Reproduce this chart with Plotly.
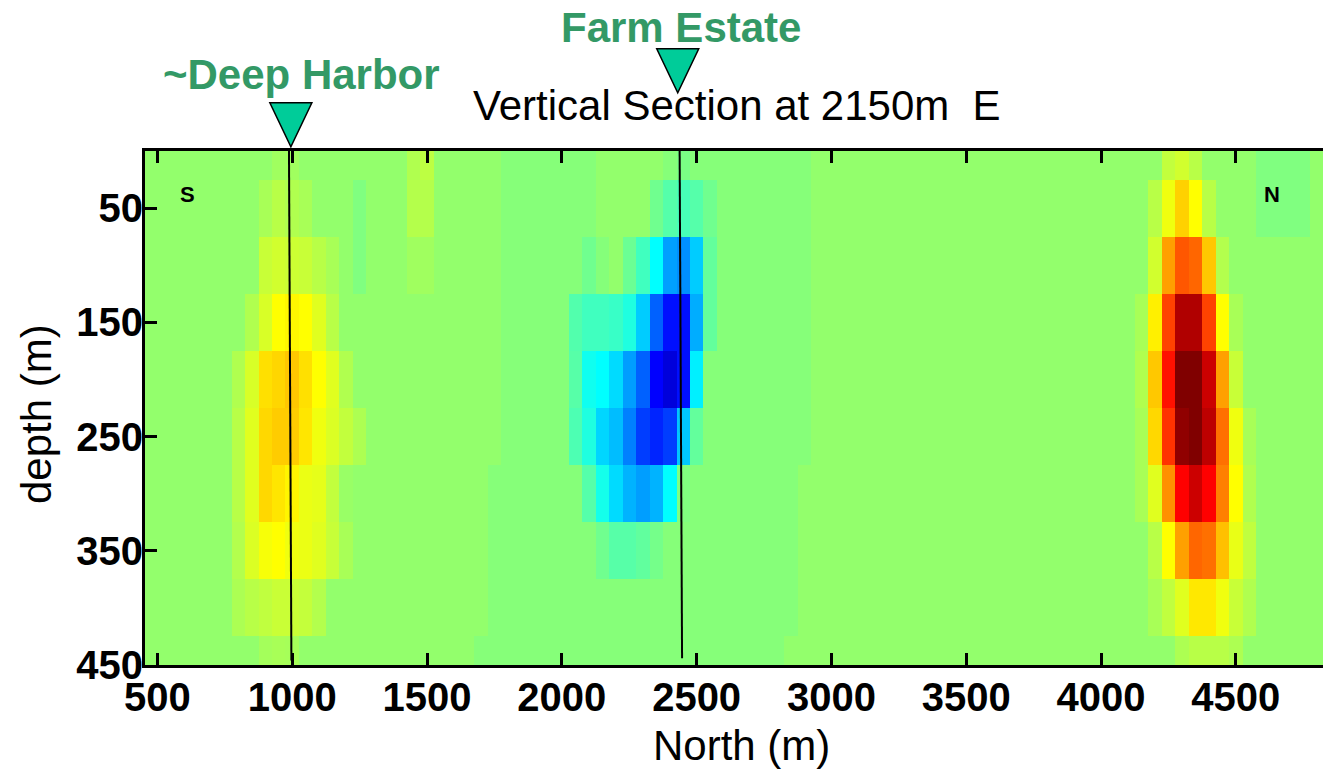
import plotly.graph_objects as go

# ---------------- data ----------------
north = list(range(450, 4851, 50))          # cell centres along the section (m)
depth = [0, 50, 100, 150, 200, 250, 300, 350, 400, 450]   # cell centres (m)

bg_level = 3.8      # regional background value
low_level = 1.3     # slightly lower background bands
# (first row, last row, first north, last north) of the lower background bands
low_bands = [
    (0, 5, 1800, 2100),
    (0, 5, 2400, 2900),
    (6, 8, 1750, 2850),
    (9, 9, 1700, 2800),
]

# anomaly blocks: values per row (None = background)
deep_harbor_start = 800
deep_harbor = [
    [None, None, None, 6.4, 6.4, None, None, None, None, None],
    [None, None, 8, 11, 9.6, 8, None, None, None, 0],
    [None, None, 14.2, 16, 15, 14.2, 11, 8, None, 0],
    [None, 9.6, 17.4, 25, 26.5, 25, 19, 11, None, None],
    [9.6, 17.4, 31, 33, 36, 31, 25, 19, 9.6, None],
    [11, 19, 32.6, 35, 35, 30, 22, 18, 13, 9],
    [11, 19, 32.6, 30, 27, 21, 20, 13, 5, None],
    [10, 18, 23.5, 25, 22, 21, 19, 14, 8, None],
    [8.8, 11, 12.6, 14.5, 14.5, 13.4, 10, None, None, None],
    [None, None, 7.2, 8, 7.5, None, None, None, None, None],
]

shallow_start = 1450
shallow = [
    [9.6, 12],
    [10.3, 10.3],
    [6.4, 6.4],
]

farm_estate_start = 2050
farm_estate = [
    [None, None, None, None, None, None, None, None, -1, None, None],
    [None, None, None, None, None, None, -3, -8.3, -11, -8.3, -3],
    [None, -3, 1, None, -4, -12.5, -25, -43.6, -47, -35, -5.5],
    [-9, -12.5, -12.5, -14, -19, -35, -56, -72, -72, -41, -5.5],
    [-8, -22, -25, -32, -44, -56, -75, -82, -72, -28, None],
    [-10, -19, -33, -38, -50, -63, -68, -63, -36, -5.5, None],
    [None, -8.3, -21, -32, -40, -44, -40, -25, 0, None, None],
    [None, None, -3, -8, -8, -6, -2, None, None, None, None],
]

north_body_start = 4100
north_body = [
    [None, None, None, 13, 16, 11, None, None, None, None],
    [None, None, 11, 22, 34, 25, 11, None, None, None],
    [None, None, 16, 43.6, 58, 55, 36, 10, None, None],
    [None, 8, 28, 62, 90.5, 90.5, 62, 25, 8, None],
    [None, 9.6, 35.8, 71.7, 100, 100, 85, 43.6, 14.2, None],
    [None, 8, 32.6, 65, 96.8, 100, 88, 53, 22, 8],
    [None, 8, 19, 46.8, 75, 85, 75, 50, 25, 9.6],
    [None, None, 11, 25, 43.6, 55, 53, 37.3, 20.6, 12.6],
    [None, None, 8, 12.6, 19, 29.5, 29.5, 22, 14.2, 9.6],
    [None, None, None, None, 9, 11, 11, 11, 9, None],
]

north_corner_start = 4600
north_corner = [
    [0, 0, 0, 0],
    [0, 0, 0, 0],
]

xtick_vals = [500, 1000, 1500, 2000, 2500, 3000, 3500, 4000, 4500]
ytick_vals = [50, 150, 250, 350, 450]

sites = ["~Deep Harbor", "Farm Estate"]
site_north_top = [988, 2437]
site_north_bottom = [997, 2446]
site_line_end = [446, 444]
site_marker_north = [995, 2430]

# ---------------- build grid ----------------
z = [[bg_level for _ in north] for _ in depth]
for r0, r1, a, b in low_bands:
    for r in range(r0, r1 + 1):
        for j, n in enumerate(north):
            if a <= n <= b:
                z[r][j] = low_level

patches = [
    (deep_harbor_start, deep_harbor),
    (shallow_start, shallow),
    (farm_estate_start, farm_estate),
    (north_body_start, north_body),
    (north_corner_start, north_corner),
]
for start, block in patches:
    for i, row in enumerate(block):
        for k, v in enumerate(row):
            if v is not None:
                z[i][north.index(start + 50 * k)] = v

jet = [[0.0, "#000080"], [0.125, "#0000FF"], [0.375, "#00FFFF"],
       [0.625, "#FFFF00"], [0.875, "#FF0000"], [1.0, "#800000"]]

FONT = "Liberation Sans, Arial, sans-serif"
GREEN = "#339966"

fig = go.Figure()
fig.add_trace(go.Heatmap(
    x=north, y=depth, z=z, colorscale=jet, zmin=-100, zmax=100,
    showscale=False, zsmooth=False, hoverinfo="skip",
))

# page geometry: the page body adds an 8 px margin, so the figure is
# 8 px smaller and all page positions are shifted by that amount.
OFF = 8
W, H = 1331 - OFF, 772 - OFF
L, R, T, B = 145 - OFF, 0, 151 - OFF, 772 - 665
pw, ph = W - L - R, H - T - B

def px_x(p):
    return (p - OFF - L) / pw

def px_y(p):
    return (H - B - (p - OFF)) / ph

shapes = []
for i in range(len(sites)):
    shapes.append(dict(type="line", xref="x", yref="y",
                       x0=site_north_top[i], y0=0,
                       x1=site_north_bottom[i], y1=site_line_end[i],
                       line=dict(color="black", width=2)))
apex_px = [146.7, 92.7]
for i in range(len(sites)):
    shapes.append(dict(type="path", xref="x", yref="paper",
                       xsizemode="pixel", ysizemode="pixel",
                       xanchor=site_marker_north[i], yanchor=px_y(apex_px[i]),
                       path="M -21,44 L 21,44 L 0,0 Z",
                       fillcolor="#00CC99", line=dict(color="black", width=1.5)))

label_pos = [(301, 74), (681, 27.5)]
annotations = []
for i, s in enumerate(sites):
    annotations.append(dict(text=s, xref="paper", yref="paper",
                            x=px_x(label_pos[i][0]), y=px_y(label_pos[i][1]),
                            xanchor="center", yanchor="middle", showarrow=False,
                            font=dict(family=FONT, size=42, color=GREEN, weight="bold")))
annotations += [
    dict(text="Vertical Section at 2150m\u00a0 E", xref="paper", yref="paper",
         x=px_x(737), y=px_y(105), xanchor="center", yanchor="middle", showarrow=False,
         font=dict(family=FONT, size=42, color="black")),
    dict(text="North (m)", xref="paper", yref="paper",
         x=px_x(741), y=px_y(746), xanchor="center", yanchor="middle", showarrow=False,
         font=dict(family=FONT, size=42, color="black")),
    dict(text="depth (m)", xref="paper", yref="paper", textangle=-90,
         x=px_x(36), y=px_y(414), xanchor="center", yanchor="middle", showarrow=False,
         font=dict(family=FONT, size=42, color="black")),
    dict(text="S", xref="x", yref="y", x=610, y=38, showarrow=False,
         font=dict(family=FONT, size=22, color="black", weight="bold")),
    dict(text="N", xref="x", yref="y", x=4635, y=38, showarrow=False,
         font=dict(family=FONT, size=22, color="black", weight="bold")),
]

fig.update_layout(
    width=W, height=H,
    margin=dict(l=L, r=R, t=T, b=B, pad=0),
    paper_bgcolor="white", plot_bgcolor="white",
    showlegend=False,
    shapes=shapes, annotations=annotations,
    xaxis=dict(range=[454, 4853], tickvals=xtick_vals, ticks="inside",
               ticklen=12, tickwidth=3, tickcolor="black",
               showline=True, linewidth=3, linecolor="black", mirror="ticks",
               showgrid=False, zeroline=False, ticklabelstandoff=-5,
               tickfont=dict(family=FONT, size=40, color="black", weight="bold")),
    yaxis=dict(range=[450, 0], tickvals=ytick_vals, ticks="inside",
               ticklen=12, tickwidth=3, tickcolor="black",
               showline=True, linewidth=3, linecolor="black", mirror=False,
               showgrid=False, zeroline=False, ticklabelstandoff=-9,
               tickfont=dict(family=FONT, size=40, color="black", weight="bold")),
    yaxis2=dict(range=[450, 0], tickvals=ytick_vals, ticks="inside",
                ticklen=3, tickwidth=3, tickcolor="black", overlaying="y",
                side="right", showline=False, showgrid=False, zeroline=False,
                showticklabels=False),
)

fig.write_html("out.html")
